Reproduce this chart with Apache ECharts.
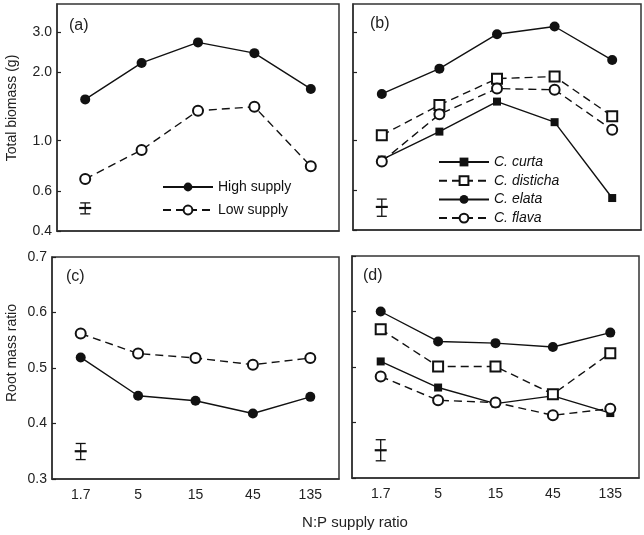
<!DOCTYPE html>
<html>
<head>
<meta charset="utf-8">
<script src="https://cdn.jsdelivr.net/npm/echarts@6/dist/echarts.min.js"></script>
<style>
  html, body { margin: 0; padding: 0; background: #fff; }
  #chart { width: 644px; height: 535px; }
</style>
</head>
<body>
<div id="chart"></div>
<script>
// N:P supply ratio categories
const ratios = ['1.7', '5', '15', '45', '135']

// total biomass (g), panel (a)
const biomassHigh = [1.52, 2.20, 2.71, 2.43, 1.69]
const biomassLow = [0.678, 0.91, 1.355, 1.41, 0.771]
// total biomass (g), panel (b)
const biomassCurta = [0.82, 1.09, 1.48, 1.20, 0.554]
const biomassDisticha = [1.05, 1.43, 1.87, 1.91, 1.275]
const biomassElata = [1.60, 2.07, 2.94, 3.18, 2.26]
const biomassFlava = [0.803, 1.30, 1.69, 1.67, 1.11]

// root mass ratio, panel (c)
const rmrHigh = [0.519, 0.450, 0.441, 0.418, 0.448]
const rmrLow = [0.562, 0.526, 0.518, 0.506, 0.518]
// root mass ratio, panel (d)
const rmrCurta = [0.510, 0.463, 0.434, 0.448, 0.417]
const rmrDisticha = [0.568, 0.501, 0.501, 0.451, 0.525]
const rmrElata = [0.600, 0.546, 0.543, 0.536, 0.562]
const rmrFlava = [0.483, 0.440, 0.436, 0.413, 0.425]

// error bars [low, mean, high], drawn at the first category
const errA = [0.476, 0.505, 0.532]
const errB = [0.46, 0.506, 0.548]
const errC = [0.335, 0.350, 0.364]
const errD = [0.331, 0.350, 0.369]

const biomassTicks = [0.4, 0.6, 1.0, 2.0, 3.0]

const FONT = 'Liberation Sans'
const INK = '#111'
const dash = [8, 5]

function xAxis (grid, showLabels) {
  return {
    type: 'category',
    gridIndex: grid,
    data: ratios,
    boundaryGap: true,
    axisLine: {lineStyle: {color: '#333', width: 1.5}},
    axisTick: {show: false},
    axisLabel: {show: showLabels, color: '#222', fontFamily: FONT, fontSize: 14, margin: 9}
  }
}

function logY (grid, showLabels) {
  return {
    type: 'log',
    gridIndex: grid,
    min: 0.4,
    max: 4.0,
    splitLine: {show: false},
    axisLine: {show: true, lineStyle: {color: '#333', width: 1.5}},
    axisTick: {show: true, inside: true, length: 4, customValues: biomassTicks, lineStyle: {color: '#222', width: 1.2}},
    minorTick: {show: false},
    axisLabel: {
      show: showLabels,
      customValues: biomassTicks,
      color: '#222',
      fontFamily: FONT,
      fontSize: 14,
      margin: 5,
      formatter: v => v.toFixed(1)
    }
  }
}

function linY (grid, showLabels) {
  return {
    type: 'value',
    gridIndex: grid,
    min: 0.3,
    max: 0.7,
    interval: 0.1,
    splitLine: {show: false},
    axisLine: {show: true, lineStyle: {color: '#333', width: 1.5}},
    axisTick: {show: true, inside: true, length: 4, lineStyle: {color: '#222', width: 1.2}},
    axisLabel: {
      show: showLabels,
      color: '#222',
      fontFamily: FONT,
      fontSize: 14,
      margin: 5,
      formatter: v => v.toFixed(1)
    }
  }
}

function lineSeries (name, idx, values, symbol, size, dashed) {
  return {
    name: name,
    type: 'line',
    xAxisIndex: idx,
    yAxisIndex: idx,
    data: values,
    symbol: symbol,
    symbolSize: size,
    z: 3,
    lineStyle: {color: INK, width: 1.4, type: dashed ? dash : 'solid'},
    itemStyle: {color: INK, borderWidth: 1.3},
    emphasis: {disabled: true},
    animation: false
  }
}

function errorSeries (idx, err) {
  return {
    type: 'custom',
    xAxisIndex: idx,
    yAxisIndex: idx,
    data: [[0, err[0], err[1], err[2]]],
    encode: {x: 0, y: [1, 2, 3]},
    silent: true,
    animation: false,
    renderItem: function (params, api) {
      const x = api.value(0)
      const lo = api.coord([x, api.value(1)])
      const mid = api.coord([x, api.value(2)])
      const hi = api.coord([x, api.value(3)])
      const cap = 5
      const st = {stroke: INK, lineWidth: 1.3}
      return {
        type: 'group',
        children: [
          {type: 'line', shape: {x1: lo[0], y1: lo[1], x2: hi[0], y2: hi[1]}, style: st},
          {type: 'line', shape: {x1: lo[0] - cap, y1: lo[1], x2: lo[0] + cap, y2: lo[1]}, style: st},
          {type: 'line', shape: {x1: hi[0] - cap, y1: hi[1], x2: hi[0] + cap, y2: hi[1]}, style: st},
          {type: 'line', shape: {x1: mid[0] - 6, y1: mid[1], x2: mid[0] + 6, y2: mid[1]}, style: {stroke: INK, lineWidth: 2.2}}
        ]
      }
    }
  }
}

const panelLabel = (text, left, top) => ({
  text: text, left: left, top: top,
  textStyle: {fontFamily: FONT, fontSize: 16, fontWeight: 'normal', color: '#222'}
})

const legendBase = {
  orient: 'vertical',
  itemWidth: 50,
  itemHeight: 11,
  padding: 0,
  selectedMode: false
}

const option = {
  backgroundColor: '#fff',
  animation: false,
  title: [
    panelLabel('(a)', 64, 13),
    panelLabel('(b)', 365, 11),
    panelLabel('(c)', 61, 264),
    panelLabel('(d)', 358, 263)
  ],
  grid: [
    {left: 57, top: 4, width: 282, height: 227, show: true, borderColor: '#333', borderWidth: 1.5},
    {left: 353, top: 4, width: 288, height: 226, show: true, borderColor: '#333', borderWidth: 1.5},
    {left: 52, top: 257, width: 287, height: 222, show: true, borderColor: '#333', borderWidth: 1.5},
    {left: 352, top: 256, width: 287, height: 222, show: true, borderColor: '#333', borderWidth: 1.5}
  ],
  xAxis: [xAxis(0, false), xAxis(1, false), xAxis(2, true), xAxis(3, true)],
  yAxis: [logY(0, true), logY(1, false), linY(2, true), linY(3, false)],
  legend: [
    Object.assign({}, legendBase, {
      data: ['High supply', 'Low supply'],
      left: 162,
      top: 180,
      itemGap: 9,
      textStyle: {fontFamily: FONT, fontSize: 14, lineHeight: 14, color: '#111'}
    }),
    Object.assign({}, legendBase, {
      data: ['C. curta', 'C. disticha', 'C. elata', 'C. flava'],
      left: 438,
      top: 155,
      itemGap: 4.7,
      textStyle: {fontFamily: FONT, fontSize: 14, lineHeight: 14, fontStyle: 'italic', color: '#111'}
    })
  ],
  graphic: [
    {
      type: 'text', x: 12, y: 108, rotation: Math.PI / 2,
      style: {text: 'Total biomass (g)', font: '14px ' + FONT, fill: '#222', align: 'center', verticalAlign: 'middle'}
    },
    {
      type: 'text', x: 12, y: 353, rotation: Math.PI / 2,
      style: {text: 'Root mass ratio', font: '14px ' + FONT, fill: '#222', align: 'center', verticalAlign: 'middle'}
    },
    {
      type: 'text', x: 355, y: 523,
      style: {text: 'N:P supply ratio', font: '15px ' + FONT, fill: '#222', align: 'center', verticalAlign: 'middle'}
    }
  ],
  series: [
    lineSeries('High supply', 0, biomassHigh, 'circle', 10, false),
    lineSeries('Low supply', 0, biomassLow, 'emptyCircle', 10, true),
    errorSeries(0, errA),

    lineSeries('C. curta', 1, biomassCurta, 'rect', 8, false),
    lineSeries('C. disticha', 1, biomassDisticha, 'emptyRect', 10, true),
    lineSeries('C. elata', 1, biomassElata, 'circle', 10, false),
    lineSeries('C. flava', 1, biomassFlava, 'emptyCircle', 10, true),
    errorSeries(1, errB),

    lineSeries('High supply', 2, rmrHigh, 'circle', 10, false),
    lineSeries('Low supply', 2, rmrLow, 'emptyCircle', 10, true),
    errorSeries(2, errC),

    lineSeries('C. curta', 3, rmrCurta, 'rect', 8, false),
    lineSeries('C. disticha', 3, rmrDisticha, 'emptyRect', 10, true),
    lineSeries('C. elata', 3, rmrElata, 'circle', 10, false),
    lineSeries('C. flava', 3, rmrFlava, 'emptyCircle', 10, true),
    errorSeries(3, errD)
  ]
}

const chart = echarts.init(document.getElementById('chart'), null, {renderer: 'canvas'})
chart.setOption(option)
</script>
</body>
</html>
